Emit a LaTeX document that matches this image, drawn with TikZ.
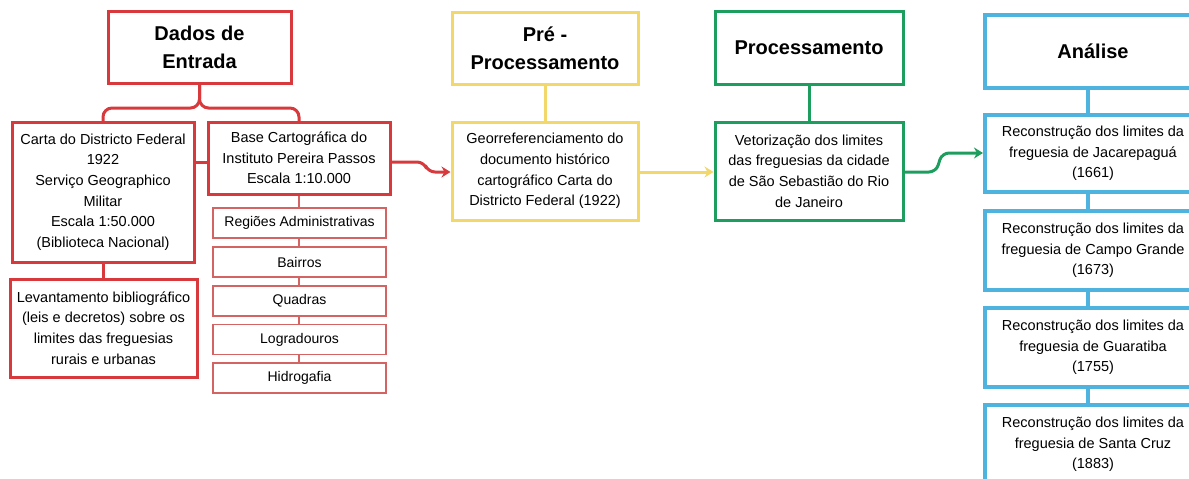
\documentclass[tikz,border=0pt]{standalone}
\usepackage{fontspec}
\setmainfont{Liberation Sans}
\usetikzlibrary{arrows.meta}
\definecolor{cred}{RGB}{215,57,60}
\definecolor{csub}{RGB}{212,100,100}
\definecolor{cyel}{RGB}{242,216,106}
\definecolor{cgrn}{RGB}{30,158,94}
\definecolor{cblu}{RGB}{79,179,224}
\tikzset{
  body/.style={font=\fontsize{14.5}{20.7}\selectfont, align=center, inner sep=0pt, fill=white},
  title/.style={font=\fontsize{20}{28}\selectfont\bfseries, align=center, inner sep=0pt, fill=white},
  redbox/.style={draw=cred, line width=3pt},
  subbox/.style={body, draw=csub, line width=1.4pt, minimum width=173, minimum height=30, font=\fontsize{14}{20}\selectfont},
  yelbox/.style={draw=cyel, line width=3pt},
  grnbox/.style={draw=cgrn, line width=3pt},
  blubox/.style={draw=cblu, line width=4pt},
  arr/.style={-{Stealth[length=9pt,width=11pt]}},
}
\begin{document}
\begin{tikzpicture}[x=1pt,y=-1pt]
\useasboundingbox (0,0) rectangle (1189,479);
\clip (0,0) rectangle (1189,479);
% connectors first
\coordinate (jr) at (200,108);
\draw[cred, line width=3pt, rounded corners=9] (199.5,83) -- (199.5,108) -- (103,108) -- (103,122);
\draw[cred, line width=3pt, rounded corners=9] (199.5,83) -- (199.5,108) -- (299,108) -- (299,122);
\draw[cred, line width=3pt] (194,162) -- (208,162);
\draw[cred, line width=3pt] (103,262) -- (103,279);
\draw[csub, line width=1.4pt] (299,194) -- (299,363);
\draw[cyel, line width=3pt] (545,84) -- (545,122);
\draw[cgrn, line width=3pt] (809,84) -- (809,122);
\draw[cblu, line width=4pt] (1088,88) -- (1088,405);
% nodes
\node[title, redbox, minimum width=183, minimum height=72] (dados) at (199.5,47) {Dados de\\Entrada};
\node[body, redbox, minimum width=182, minimum height=140] (carta) at (103,192) {Carta do Districto Federal\\1922\\Serviço Geographico\\Militar\\Escala 1:50.000\\(Biblioteca Nacional)};
\node[body, redbox, minimum width=182, minimum height=72] (base) at (299,158) {Base Cartográfica do\\Instituto Pereira Passos\\Escala 1:10.000};
\node[body, redbox, minimum width=187, minimum height=98] (lev) at (103.5,328) {Levantamento bibliográfico\\(leis e decretos) sobre os\\limites das freguesias\\rurais e urbanas};
\node[subbox] (s1) at (299.5,223) {Regiões Administrativas};
\node[subbox] (s2) at (299.5,262) {Bairros};
\node[subbox] (s3) at (299.5,301) {Quadras};
\node[subbox] (s4) at (299.5,339.5) {Logradouros};
\node[subbox] (s5) at (299.5,378) {Hidrogafia};
\node[title, yelbox, minimum width=186, minimum height=72] (pre) at (545,48) {Pré -\\Processamento};
\node[body, yelbox, minimum width=186, minimum height=98] (geo) at (545,171) {Georreferenciamento do\\documento histórico\\cartográfico Carta do\\Districto Federal (1922)};
\node[title, grnbox, minimum width=188, minimum height=73] (proc) at (809,47.5) {Processamento};
\node[body, grnbox, minimum width=188, minimum height=98] (vet) at (809,171) {Vetorização dos limites\\das freguesias da cidade\\de São Sebastião do Rio\\de Janeiro};
\node[title, blubox, minimum width=216, minimum height=73] (ana) at (1093,51.5) {Análise};
\node[body, blubox, minimum width=216, minimum height=77] (j1) at (1093,153.5) {Reconstrução dos limites da\\freguesia de Jacarepaguá\\(1661)};
\node[body, blubox, minimum width=216, minimum height=79] (j2) at (1093,250.5) {Reconstrução dos limites da\\freguesia de Campo Grande\\(1673)};
\node[body, blubox, minimum width=216, minimum height=79] (j3) at (1093,347.5) {Reconstrução dos limites da\\freguesia de Guaratiba\\(1755)};
\node[body, blubox, minimum width=216, minimum height=79] (j4) at (1093,444.5) {Reconstrução dos limites da\\freguesia de Santa Cruz\\(1883)};
% arrows
\draw[cred, line width=3pt, arr, rounded corners=7] (base.east |- 0,162) -- (424,162) -- (428,172) -- (geo.west |- 0,172);
\draw[cyel, line width=3pt, arr] (geo.east |- 0,172) -- (vet.west |- 0,172);
\draw[cgrn, line width=3pt, arr, rounded corners=7] (vet.east |- 0,172) -- (936,172) -- (942,153) -- (j1.west |- 0,153);
\end{tikzpicture}
\end{document}
